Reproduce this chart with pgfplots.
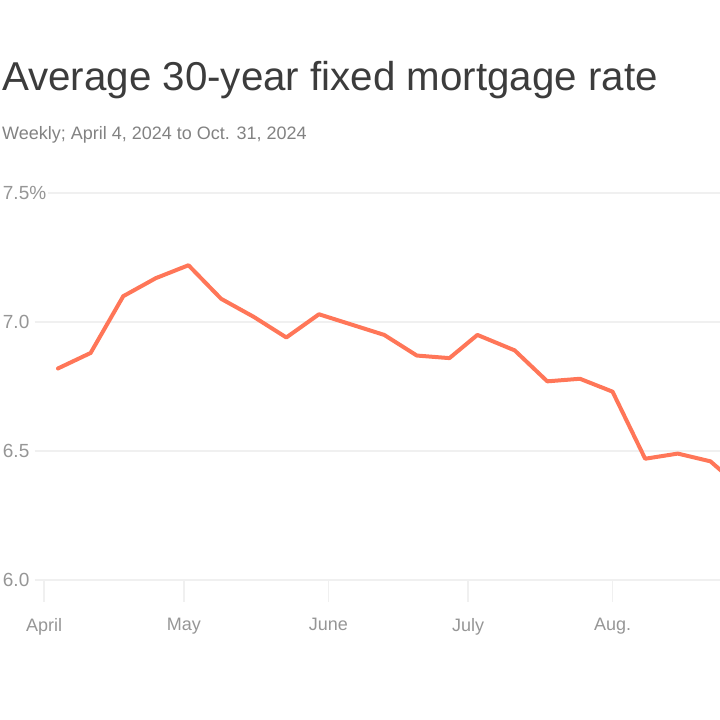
\documentclass[border=0pt]{standalone}
\usepackage{fontspec}
\setmainfont{Liberation Sans}
\usepackage{pgfplots}
\pgfplotsset{compat=1.18}

\definecolor{coral}{RGB}{255,118,88}
\definecolor{gridgray}{RGB}{240,240,240}
\definecolor{titlegray}{RGB}{60,60,60}
\definecolor{subgray}{RGB}{130,130,130}
\definecolor{tickgray}{RGB}{150,150,150}

\begin{document}
\begin{tikzpicture}
  % the reference shows the left part of a wider chart
  \useasboundingbox (0pt,0pt) rectangle (720pt,-720pt);
  \clip (0pt,0pt) rectangle (720pt,-720pt);

  \node[anchor=base west, inner sep=0, text=titlegray,
        font=\fontsize{40.3}{46}\selectfont] at (2pt,-90pt)
        {Average 30-year fixed mortgage rate};
  \node[anchor=base west, inner sep=0, text=subgray,
        font=\fontsize{18}{22}\selectfont] at (2pt,-139pt)
        {Weekly; April 4, 2024 to Oct. 31, 2024};

  \begin{axis}[
      at={(34.7pt,-580pt)}, anchor=south west,
      x=4.66pt, y=258pt,
      xmin=-2, xmax=214, ymin=6, ymax=7.5,
      clip=false,
      axis line style={draw=none},
      ymajorgrids,
      grid style={line width=2.5pt, color=gridgray},
      ytick={6,6.5,7,7.5},
      yticklabels={6.0,6.5,7.0,7.5\%},
      ytick style={draw=none},
      yticklabel style={anchor=west, xshift=-12pt, fill=white, inner sep=2pt,
                        text=tickgray, font=\fontsize{19}{22}\selectfont},
      xtick={0,30,61,91,122},
      xticklabels={April,May,June,July,Aug.},
      xtick pos=bottom,
      tick align=outside,
      major tick length=22pt,
      xtick style={color=gridgray, line width=1.5pt},
      xticklabel style={text=tickgray, font=\fontsize{18}{22}\selectfont, yshift=-13pt},
      /pgf/number format/assume math mode=true,
    ]
    % weekly rate, days counted from April 1, 2024
    \addplot[color=coral, line width=4pt, line join=round, line cap=round] coordinates {
      (3,6.82)
      (10,6.88)
      (17,7.10)
      (24,7.17)
      (31,7.22)
      (38,7.09)
      (45,7.02)
      (52,6.94)
      (59,7.03)
      (66,6.99)
      (73,6.95)
      (80,6.87)
      (87,6.86)
      (93,6.95)
      (101,6.89)
      (108,6.77)
      (115,6.78)
      (122,6.73)
      (129,6.47)
      (136,6.49)
      (143,6.46)
      (150,6.35)
    };
  \end{axis}
\end{tikzpicture}
\end{document}
